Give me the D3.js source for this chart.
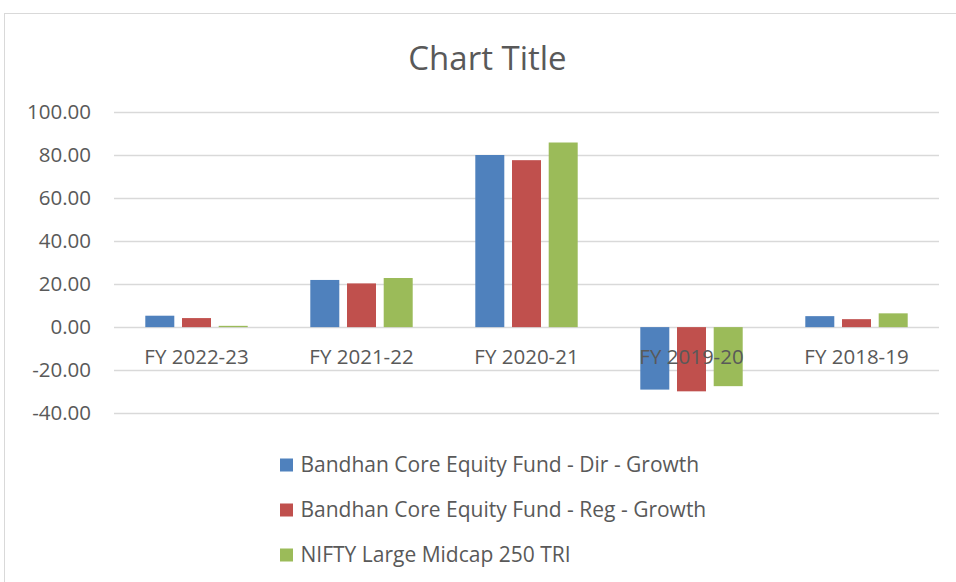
<!DOCTYPE html>
<html>
<head>
<meta charset="utf-8">
<script src="https://cdn.jsdelivr.net/npm/d3@7"></script>
<style>
  body { margin: 0; background: #fff; }
  svg { font-family: "Open Sans", Lato, sans-serif; }
</style>
</head>
<body>
<svg id="chart" width="956" height="582"></svg>
<script>
// data
const categories = ["FY 2022-23", "FY 2021-22", "FY 2020-21", "FY 2019-20", "FY 2018-19"];
const seriesNames = [
  "Bandhan Core Equity Fund - Dir - Growth",
  "Bandhan Core Equity Fund - Reg - Growth",
  "NIFTY Large Midcap 250 TRI"
];
const dirGrowth = [5.3, 21.9, 79.9, -29.0, 5.1];
const regGrowth = [4.2, 20.3, 77.5, -29.8, 3.7];
const niftyTri = [0.6, 22.8, 85.7, -27.4, 6.4];
const yTicks = [-40, -20, 0, 20, 40, 60, 80, 100];
const colors = ["#4F81BD", "#C0504D", "#9BBB59"];

const allSeries = [dirGrowth, regGrowth, niftyTri];

const svg = d3.select("#chart");

// outer frame of the chart area
svg.append("rect")
  .attr("x", 4.5).attr("y", 13.5)
  .attr("width", 1000).attr("height", 1000)
  .attr("fill", "#fff")
  .attr("stroke", "#d9d9d9");

const plot = { left: 114, right: 939, top: 111.7, bottom: 413.3 };

const x = d3.scaleBand()
  .domain(categories)
  .range([plot.left, plot.right]);

const y = d3.scaleLinear()
  .domain([-40, 100])
  .range([plot.bottom, plot.top]);

// plain hyphen for negatives, like Excel
const fmt = d3.formatLocale({ decimal: ".", thousands: ",", grouping: [3], currency: ["", ""], minus: "-" }).format(".2f");

// gridlines
svg.append("g")
  .selectAll("line")
  .data(yTicks)
  .join("line")
  .attr("x1", plot.left).attr("x2", plot.right)
  .attr("y1", d => Math.round(y(d)) + 0.5).attr("y2", d => Math.round(y(d)) + 0.5)
  .attr("stroke", "#d9d9d9")
  .attr("stroke-width", 1.3);

// y axis labels
const yAxis = d3.axisLeft(y).tickValues(yTicks).tickFormat(fmt).tickSize(0).tickPadding(0);
svg.append("g")
  .attr("transform", `translate(${plot.left - 23},0)`)
  .call(yAxis)
  .call(g => g.select(".domain").remove())
  .call(g => g.selectAll("text")
    .attr("fill", "#595959")
    .attr("font-size", 20.5)
    .attr("font-family", "'Open Sans', sans-serif"));

// bars
const barW = 29, barStep = 36.7;
const groups = svg.append("g")
  .selectAll("g")
  .data(allSeries)
  .join("g")
  .attr("fill", (d, i) => colors[i]);

groups.each(function (vals, si) {
  d3.select(this).selectAll("rect")
    .data(vals.map((v, ci) => ({ v, c: categories[ci] })))
    .join("rect")
    .attr("x", d => x(d.c) + x.bandwidth() / 2 + (si - 1) * barStep - barW / 2)
    .attr("y", d => y(Math.max(0, d.v)))
    .attr("width", barW)
    .attr("height", d => Math.abs(y(d.v) - y(0)));
});

// category labels (drawn over the bars, below the zero line)
const xAxis = d3.axisBottom(x).tickSize(0).tickPadding(0);
svg.append("g")
  .attr("transform", `translate(0,${y(0) + 30})`)
  .call(xAxis)
  .call(g => g.select(".domain").remove())
  .call(g => g.selectAll("text")
    .attr("dy", "0.35em")
    .attr("fill", "#595959")
    .attr("font-size", 20.5)
    .attr("font-family", "'Open Sans', sans-serif"));

// title
svg.append("text")
  .attr("x", 487.5).attr("y", 70)
  .attr("text-anchor", "middle")
  .attr("fill", "#595959")
  .attr("font-size", 33)
  .text("Chart Title");

// legend
const legend = svg.append("g")
  .selectAll("g")
  .data(seriesNames)
  .join("g")
  .attr("transform", (d, i) => `translate(280,${465 + i * 45})`);

legend.append("rect")
  .attr("x", 0).attr("y", -6.5)
  .attr("width", 13).attr("height", 13)
  .attr("fill", (d, i) => colors[i]);

legend.append("text")
  .attr("x", 20.5).attr("y", 0)
  .attr("dy", "0.35em")
  .attr("fill", "#595959")
  .attr("font-size", 21)
  .text(d => d);
</script>
</body>
</html>
